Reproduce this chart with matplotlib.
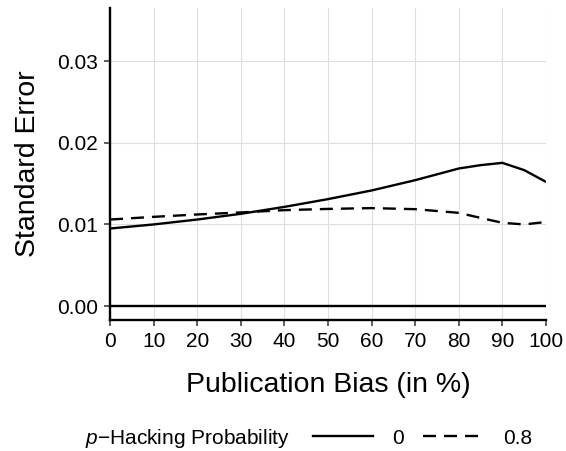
import matplotlib
matplotlib.use("Agg")
import matplotlib.pyplot as plt
from matplotlib.lines import Line2D

plt.rcParams['font.family'] = ['Liberation Sans', 'DejaVu Sans']
plt.rcParams['mathtext.fontset'] = 'custom'
plt.rcParams['mathtext.it'] = 'Liberation Sans:italic'
plt.rcParams['mathtext.rm'] = 'Liberation Sans'

pub_bias = [0, 10, 20, 30, 40, 50, 60, 70, 80, 85, 90, 95, 100]
se_ph0 = [0.0095, 0.0100, 0.0106, 0.0113, 0.01215, 0.0131, 0.01416, 0.01542, 0.01685, 0.01726, 0.01754, 0.01665, 0.01521]
se_ph08 = [0.0106, 0.01093, 0.01122, 0.01147, 0.01175, 0.0119, 0.0120, 0.01187, 0.01142, 0.0108, 0.0102, 0.0100, 0.0103]
x_ticks = [0, 10, 20, 30, 40, 50, 60, 70, 80, 90, 100]
y_ticks = [0.00, 0.01, 0.02, 0.03]
legend_labels = ["0", "0.8"]

W, H = 566, 451
fig = plt.figure(figsize=(W/100, H/100), dpi=100)
ax = fig.add_axes([110/W, (H-320)/H, (546-110)/W, (320-8)/H])

lw = 1.7
dash = (5.5, 3.4)
ax.plot(pub_bias, se_ph0, color='black', lw=lw, solid_joinstyle='round')
ax.plot(pub_bias, se_ph08, color='black', lw=lw, dashes=dash)
ax.axhline(0, color='black', lw=lw)

ax.set_xlim(0, 100)
ax.set_ylim(-0.0017, 0.0365)
ax.set_xticks(x_ticks)
ax.set_yticks(y_ticks)
ax.set_yticklabels([f"{v:.2f}" for v in y_ticks])
ax.grid(True, color='#dedede', lw=0.8)
ax.set_axisbelow(True)
for s in ['top', 'right']:
    ax.spines[s].set_visible(False)
for s in ['left', 'bottom']:
    ax.spines[s].set_linewidth(1.7)
    ax.spines[s].set_color('black')
ax.tick_params(axis='both', labelsize=15, labelcolor='black', color='#333333',
               width=1.1, length=4.5, pad=4)

ax.set_xlabel("Publication Bias (in %)", fontsize=20.5, labelpad=15)
ax.set_ylabel("Standard Error", fontsize=20.5, labelpad=12)

fig.text(85/W, 1-438/H, r"$p$−Hacking Probability", fontsize=15, va='center', ha='left')
handles = [Line2D([], [], color='black', lw=lw),
           Line2D([], [], color='black', lw=lw, dashes=dash)]
fig.legend(handles, legend_labels, loc='center left', bbox_to_anchor=(313/W, 1-438/H),
           ncol=2, frameon=False, fontsize=15, handlelength=2.9, handletextpad=0.92,
           columnspacing=0.9, borderaxespad=0, borderpad=0)

fig.savefig("out.png", dpi=100)
